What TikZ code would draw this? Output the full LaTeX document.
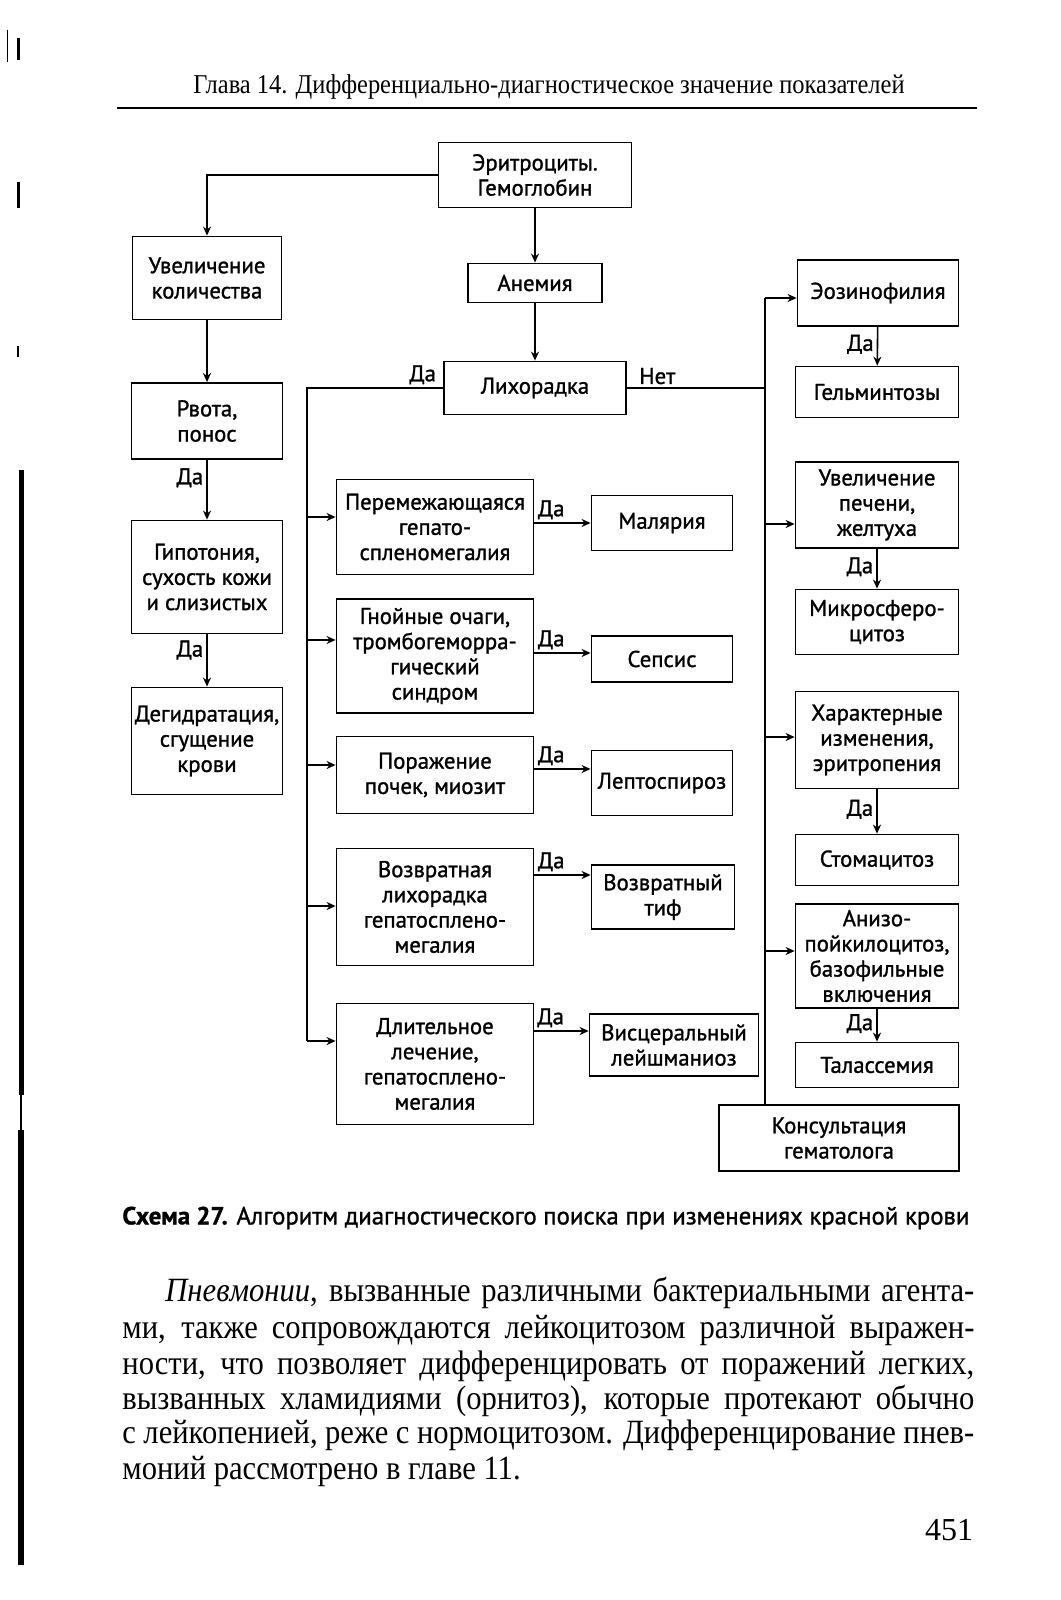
\documentclass[tikz,border=0pt]{standalone}
\usepackage{fontspec}
\setmainfont{Liberation Serif}
\newfontfamily\boxfont[FakeBold=1.2]{PT Sans}
\newfontfamily\parafont[FakeStretch=0.9]{Liberation Serif}
\usetikzlibrary{arrows.meta}

\begin{document}
\begin{tikzpicture}[
  x=0.5pt, y=-0.5pt,
  box/.style 2 args={draw=black,line width=0.9pt,inner sep=1pt,
              minimum width=#1*0.5pt,minimum height=#2*0.5pt,align=center,
              font=\boxfont\fontsize{11.4}{12.6}\selectfont},
  arrow/.style={-{Stealth[length=4.5pt,width=4pt]},line width=0.8pt},
  line/.style={line width=0.8pt},
  yes/.style={font=\boxfont\fontsize{11.4}{12}\selectfont,inner sep=1.5pt},
  para/.style={anchor=west,inner sep=0pt,font=\parafont\fontsize{17}{19}\selectfont},
  scan/.style={line width=#1*0.5pt,draw=black}
]
\fill[white] (0,0) rectangle (1060,1600);
\useasboundingbox (0,0) rectangle (1060,1600);

% scan marks on the left edge
\draw[scan=3] (18,38) -- (18,60);
\draw[scan=1] (7,30) -- (7,62);
\draw[scan=3] (18,182) -- (18,208);
\draw[scan=2] (18,346) -- (18,357);
\draw[scan=5] (21,470) -- (21,1095);
\draw[scan=2] (21,1095) -- (21,1130);
\draw[scan=6] (21,1130) -- (21,1565);

% page head
\node[font=\parafont\fontsize{13.6}{15}\selectfont] (head) at (549,87) {Глава 14. Дифференциально-диагностическое значение показателей};
\draw[line width=1.4pt] (117,108) -- (977,108);

% main column
\node[box={193}{65}] (ery) at (535,175) {Эритроциты.\\Гемоглобин};
\node[box={134}{39}] (anemia) at (535,283) {Анемия};
\node[box={182}{53}] (fever) at (535,388) {Лихорадка};

% left column
\node[box={149}{83}] (incr) at (207,278) {Увеличение\\количества};
\node[box={151}{76}] (vomit) at (207,421) {Рвота,\\понос};
\node[box={151}{113}] (hypot) at (207,577) {Гипотония,\\сухость кожи\\и слизистых};
\node[box={151}{107}] (dehyd) at (207,741) {Дегидратация,\\сгущение\\крови};

% fever: signs
\node[box={197}{95}] (inter) at (435,527) {Перемежающаяся\\гепато-\\спленомегалия};
\node[box={197}{114}] (pus) at (435,656) {Гнойные очаги,\\тромбогеморра-\\гический\\синдром};
\node[box={197}{77}] (kidney) at (435,775) {Поражение\\почек, миозит};
\node[box={197}{117}] (relapse) at (435,907) {Возвратная\\лихорадка\\гепатосплено-\\мегалия};
\node[box={197}{121}] (longtx) at (435,1064) {Длительное\\лечение,\\гепатосплено-\\мегалия};

% fever: diagnoses
\node[box={141}{55}] (malaria) at (662,523) {Малярия};
\node[box={141}{46}] (sepsis) at (662,659) {Сепсис};
\node[box={141}{65}] (lepto) at (662,783) {Лептоспироз};
\node[box={143}{64}] (typhus) at (663,897) {Возвратный\\тиф};
\node[box={169}{62}] (leish) at (674,1045) {Висцеральный\\лейшманиоз};

% no fever
\node[box={161}{66}] (eos) at (878,293) {Эозинофилия};
\node[box={163}{51}] (helm) at (877,392) {Гельминтозы};
\node[box={163}{86}] (liver) at (877,505) {Увеличение\\печени,\\желтуха};
\node[box={163}{65}] (micro) at (877,622) {Микросферо-\\цитоз};
\node[box={163}{97}] (charac) at (877,740) {Характерные\\изменения,\\эритропения};
\node[box={163}{51}] (stoma) at (877,860) {Стомацитоз};
\node[box={163}{104}] (aniso) at (877,956) {Анизо-\\пойкилоцитоз,\\базофильные\\включения};
\node[box={163}{45}] (thal) at (877,1065) {Талассемия};
\node[box={240}{66}] (consult) at (839,1138) {Консультация\\гематолога};

% trunks and rows
\coordinate (ytrunk) at (307,388);
\coordinate (ybot) at (307,1041);
\coordinate (ntrunk) at (765,298);

\draw[arrow] (ery.west) -| (incr.north);
\draw[arrow] (ery) -- (anemia);
\draw[arrow] (anemia) -- (fever);
\draw[arrow] (incr) -- (vomit);
\draw[arrow] (vomit) -- node[yes,left,pos=0.3]{Да} (hypot);
\draw[arrow] (hypot) -- node[yes,left,pos=0.3]{Да} (dehyd);

\draw[line] (fever.west) -- node[yes,above,pos=0.15]{Да} (ytrunk) -- (ybot);
\foreach \nm/\yy in {inter/517,pus/640,kidney/765,relapse/906,longtx/1041}{
  \coordinate (b\nm) at (307,\yy);
  \draw[arrow] (b\nm) -- (b\nm -| \nm.west);
}
\foreach \src/\dst/\yy in {inter/malaria/523,pus/sepsis/653,kidney/lepto/769,relapse/typhus/875,longtx/leish/1031}{
  \coordinate (r\dst) at (0,\yy);
  \draw[arrow] (\src.east |- r\dst) -- node[yes,above,pos=0.3]{Да} (\dst.west |- r\dst);
}

\draw[line] (fever.east) -- node[yes,above,pos=0.22]{Нет} (fever.east -| ntrunk);
\draw[line] (ntrunk) -- (ntrunk |- consult.north);
\draw[arrow] (ntrunk) -- (ntrunk -| eos.west);
\foreach \nm/\yy in {liver/524,charac/737,aniso/951}{
  \coordinate (n\nm) at (765,\yy);
  \draw[arrow] (n\nm) -- (n\nm -| \nm.west);
}
\foreach \src/\dst in {eos/helm,liver/micro,charac/stoma,aniso/thal}
  \draw[arrow] (\src) -- node[yes,left,pos=0.45]{Да} (\dst);

% caption and text
\node[anchor=west,inner sep=0pt,font=\boxfont\fontsize{12.4}{14}\selectfont] (caption) at (122,1218)
  {\textbf{Схема 27.} Алгоритм диагностического поиска при изменениях красной крови};
\node[para] (p1) at (165,1293) {\makebox[404.5pt][s]{\textit{Пневмонии}, вызванные различными бактериальными агента-}};
\node[para] (p2) at (122,1330) {\makebox[426pt][s]{ми, также сопровождаются лейкоцитозом различной выражен-}};
\node[para] (p3) at (122,1366) {\makebox[426pt][s]{ности, что позволяет дифференцировать от поражений легких,}};
\node[para] (p4) at (122,1401) {\makebox[426pt][s]{вызванных хламидиями (орнитоз), которые протекают обычно}};
\node[para] (p5) at (122,1435) {\makebox[426pt][s]{с лейкопенией, реже с нормоцитозом. Дифференцирование пнев-}};
\node[para] (p6) at (122,1471) {моний рассмотрено в главе 11.};
\node[font=\fontsize{16}{18}\selectfont] (pnum) at (949,1530) {451};
\end{tikzpicture}
\end{document}
